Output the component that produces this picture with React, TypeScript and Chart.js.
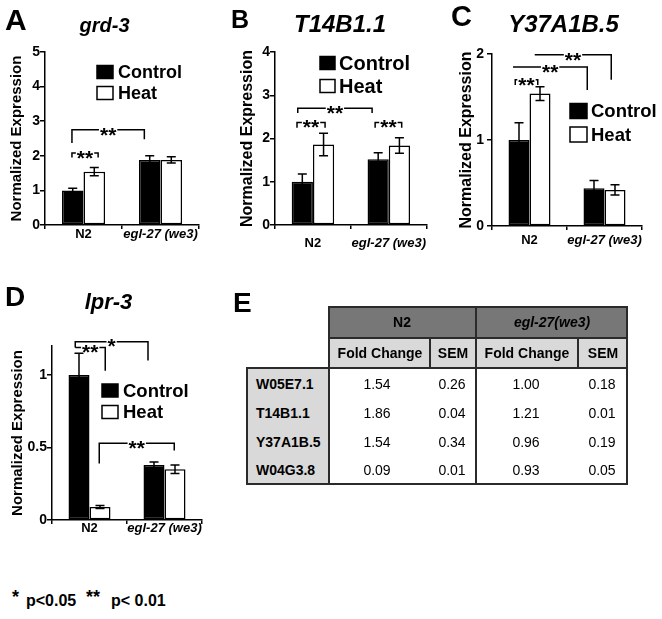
import React, { useEffect, useRef } from 'react';
import { Chart, registerables } from 'chart.js';

Chart.register(...registerables);

const FONT = '"Liberation Sans", Arial, Helvetica, sans-serif';

// ---------- data ----------
const groups = ['N2', 'egl-27 (we3)'];
const seriesNames = ['Control', 'Heat'];
const yTitle = 'Normalized Expression';

// A: grd-3
const grdControl = [1.0, 1.88];
const grdControlSem = [0.06, 0.12];
const grdHeat = [1.54, 1.88];
const grdHeatSem = [0.12, 0.09];
const grdTicks = [0, 1, 2, 3, 4, 5];
const grdSig = [
  { label: '**', from: -0.15, to: 0.79, y: 2.75, leftEnd: 2.37, rightEnd: 2.48 },
  { label: '**', from: -0.15, to: 0.19, y: 2.08, leftEnd: 1.95, rightEnd: 1.95 },
];

// B: T14B1.1
const t14Control = [1.0, 1.52];
const t14ControlSem = [0.18, 0.15];
const t14Heat = [1.86, 1.84];
const t14HeatSem = [0.26, 0.18];
const t14Ticks = [0, 1, 2, 3, 4];
const t14Sig = [
  { label: '**', from: -0.2, to: 0.78, y: 2.7, leftEnd: 2.59, rightEnd: 2.59 },
  { label: '**', from: -0.21, to: 0.16, y: 2.37, leftEnd: 2.25, rightEnd: 2.25 },
  { label: '**', from: 0.82, to: 1.17, y: 2.37, leftEnd: 2.25, rightEnd: 2.25 },
];

// C: Y37A1B.5
const y37Control = [1.0, 0.44];
const y37ControlSem = [0.2, 0.09];
const y37Heat = [1.54, 0.42];
const y37HeatSem = [0.08, 0.06];
const y37Ticks = [0, 1, 2];
const y37Sig = [
  { label: '**', from: 0.07, to: 1.09, y: 1.99, leftEnd: null, rightEnd: 1.7 },
  { label: '**', from: -0.22, to: 0.77, y: 1.85, leftEnd: null, rightEnd: 1.58 },
  { label: '**', from: -0.19, to: 0.11, y: 1.7, leftEnd: 1.64, rightEnd: 1.64 },
];

// D: lpr-3
const lprControl = [1.0, 0.38];
const lprControlSem = [0.15, 0.02];
const lprHeat = [0.09, 0.35];
const lprHeatSem = [0.01, 0.03];
const lprTicks = [0, 0.5, 1];
const lprSig = [
  { label: '*', from: -0.19, to: 0.78, y: 1.23, leftEnd: 1.19, rightEnd: 1.1 },
  { label: '**', from: -0.19, to: 0.21, y: 1.19, leftEnd: null, rightEnd: 1.03 },
  { label: '**', from: 0.13, to: 1.13, y: 0.53, leftEnd: 0.39, rightEnd: 0.48 },
];

// E: table
const tableGenes = ['W05E7.1', 'T14B1.1', 'Y37A1B.5', 'W04G3.8'];
const n2Fold = ['1.54', '1.86', '1.54', '0.09'];
const n2Sem = ['0.26', '0.04', '0.34', '0.01'];
const eglFold = ['1.00', '1.21', '0.96', '0.93'];
const eglSem = ['0.18', '0.01', '0.19', '0.05'];
const tableGroups = ['N2', 'egl-27(we3)'];
const tableCols = ['Fold Change', 'SEM'];

// ---------- plugins ----------
const errorBarPlugin = {
  id: 'errorBars',
  afterDatasetsDraw(chart: any) {
    const { ctx } = chart;
    const ys = chart.scales.y;
    chart.data.datasets.forEach((ds: any, di: number) => {
      const meta = chart.getDatasetMeta(di);
      meta.data.forEach((bar: any, i: number) => {
        const v = ds.data[i];
        const e = ds.errors[i];
        const yt = ys.getPixelForValue(v + e);
        const yb = ys.getPixelForValue(v - e);
        const x = bar.x;
        ctx.save();
        ctx.strokeStyle = '#000';
        ctx.lineWidth = 1.5;
        ctx.beginPath();
        ctx.moveTo(x, yt);
        ctx.lineTo(x, yb);
        ctx.moveTo(x - 4.5, yt);
        ctx.lineTo(x + 4.5, yt);
        ctx.moveTo(x - 4.5, yb);
        ctx.lineTo(x + 4.5, yb);
        ctx.stroke();
        ctx.restore();
      });
    });
  },
};

const bracketPlugin = {
  id: 'sigBrackets',
  afterDraw(chart: any, _args: any, opts: any) {
    const { ctx } = chart;
    const xs = chart.scales.x;
    const ys = chart.scales.y;
    const p0 = xs.getPixelForValue(0);
    const step = xs.getPixelForValue(1) - p0;
    const X = (u: number) => p0 + u * step;
    ctx.save();
    ctx.strokeStyle = '#000';
    ctx.fillStyle = '#000';
    ctx.lineWidth = 1.5;
    ctx.font = `bold ${opts.size}px ${FONT}`;
    ctx.textAlign = 'center';
    ctx.textBaseline = 'alphabetic';
    for (const b of opts.items) {
      const x1 = X(b.from);
      const x2 = X(b.to);
      const y = ys.getPixelForValue(b.y);
      const mid = (x1 + x2) / 2;
      const w = ctx.measureText(b.label).width;
      const g1 = mid - w / 2 - 1;
      const g2 = mid + w / 2 + 1;
      ctx.beginPath();
      if (b.leftEnd != null) {
        ctx.moveTo(x1, ys.getPixelForValue(b.leftEnd));
        ctx.lineTo(x1, y);
      } else {
        ctx.moveTo(x1, y);
      }
      ctx.lineTo(Math.max(x1, g1), y);
      ctx.moveTo(Math.min(x2, g2), y);
      ctx.lineTo(x2, y);
      if (b.rightEnd != null) ctx.lineTo(x2, ys.getPixelForValue(b.rightEnd));
      ctx.stroke();
      ctx.fillText(b.label, mid, y + 0.56 * opts.size);
    }
    ctx.restore();
  },
};

const boxLegendPlugin = {
  id: 'boxLegend',
  afterDraw(chart: any, _args: any, opts: any) {
    const { ctx } = chart;
    ctx.save();
    chart.data.datasets.forEach((ds: any, i: number) => {
      const cy = opts.y + i * opts.gap;
      ctx.fillStyle = ds.backgroundColor;
      ctx.fillRect(opts.x, cy - opts.h / 2, opts.w, opts.h);
      ctx.strokeStyle = '#000';
      ctx.lineWidth = 1.5;
      ctx.strokeRect(opts.x, cy - opts.h / 2, opts.w, opts.h);
      ctx.fillStyle = '#000';
      ctx.font = `bold ${opts.size}px ${FONT}`;
      ctx.textAlign = 'left';
      ctx.textBaseline = 'middle';
      ctx.fillText(ds.label, opts.x + opts.w + opts.textGap, cy + 1);
    });
    ctx.restore();
  },
};

// ---------- panel specs ----------
type Spec = {
  cx: number; cy: number; cw: number; ch: number;
  L: number; R: number; T: number; B: number;
  max: number; ticks: number[];
  control: number[]; controlSem: number[]; heat: number[]; heatSem: number[];
  sig: any[];
  titleSize: number; titleCenter: number; tickPad: number; xPad: number;
  legend: any;
};

const specs: Spec[] = [
  {
    cx: 0, cy: 0, cw: 210, ch: 260, L: 45, R: 199, T: 52, B: 225,
    max: 5, ticks: grdTicks,
    control: grdControl, controlSem: grdControlSem, heat: grdHeat, heatSem: grdHeatSem, sig: grdSig,
    titleSize: 15, titleCenter: 17, tickPad: 0, xPad: -2,
    legend: { x: 97, y: 72, gap: 21, w: 16, h: 13, size: 18, textGap: 5 },
  },
  {
    cx: 210, cy: 0, cw: 225, ch: 260, L: 275, R: 427, T: 52, B: 225,
    max: 4, ticks: t14Ticks,
    control: t14Control, controlSem: t14ControlSem, heat: t14Heat, heatSem: t14HeatSem, sig: t14Sig,
    titleSize: 16, titleCenter: 37.5, tickPad: 0, xPad: 7,
    legend: { x: 110, y: 63, gap: 23, w: 15, h: 13, size: 20, textGap: 4 },
  },
  {
    cx: 435, cy: 0, cw: 227, ch: 260, L: 492, R: 642, T: 54, B: 226,
    max: 2, ticks: y37Ticks,
    control: y37Control, controlSem: y37ControlSem, heat: y37Heat, heatSem: y37HeatSem, sig: y37Sig,
    titleSize: 16, titleCenter: 32, tickPad: 3, xPad: 3,
    legend: { x: 135, y: 111, gap: 23.5, w: 17, h: 15, size: 18.5, textGap: 4 },
  },
  {
    cx: 0, cy: 280, cw: 240, ch: 270, L: 52, R: 202, T: 346, B: 520,
    max: 1.2, ticks: lprTicks,
    control: lprControl, controlSem: lprControlSem, heat: lprHeat, heatSem: lprHeatSem, sig: lprSig,
    titleSize: 15, titleCenter: 17.5, tickPad: 0, xPad: -3,
    legend: { x: 102, y: 110.5, gap: 21.5, w: 16, h: 13, size: 18.5, textGap: 5 },
  },
];

function makeConfig(p: Spec): any {
  const titleLH = p.titleSize * 1.2;
  return {
    type: 'bar',
    data: {
      labels: groups,
      datasets: [
        {
          label: seriesNames[0], data: p.control, errors: p.controlSem,
          backgroundColor: '#000000', borderColor: '#000000', borderWidth: 1.5, borderSkipped: false,
        },
        {
          label: seriesNames[1], data: p.heat, errors: p.heatSem,
          backgroundColor: '#ffffff', borderColor: '#000000', borderWidth: 1.5, borderSkipped: false,
        },
      ],
    },
    options: {
      animation: false,
      responsive: false,
      maintainAspectRatio: false,
      events: [],
      layout: {
        padding: { left: 0, right: p.cx + p.cw - p.R, top: p.T - p.cy, bottom: 0 },
      },
      datasets: { bar: { barPercentage: 1, categoryPercentage: 0.56 } },
      plugins: {
        legend: { display: false },
        title: { display: false },
        tooltip: { enabled: false },
        sigBrackets: { items: p.sig, size: 21 },
        boxLegend: p.legend,
      },
      scales: {
        x: {
          type: 'category',
          afterFit: (s: any) => { s.height = p.cy + p.ch - p.B; },
          border: { display: true, color: '#000', width: 1.5 },
          grid: { display: true, drawOnChartArea: false, drawTicks: true, tickLength: 4, color: '#000', lineWidth: 1.5, offset: true },
          ticks: {
            color: '#000',
            padding: p.xPad,
            maxRotation: 0,
            autoSkip: false,
            font: (ctx: any) => ({ family: FONT, size: 13, weight: 'bold', style: ctx.index === 1 ? 'italic' : 'normal' }),
          },
        },
        y: {
          type: 'linear',
          min: 0,
          max: p.max,
          afterFit: (s: any) => { s.width = p.L - p.cx; },
          afterBuildTicks: (s: any) => { s.ticks = p.ticks.map((v) => ({ value: v })); },
          border: { display: true, color: '#000', width: 1.5 },
          grid: { display: true, drawOnChartArea: false, drawTicks: true, tickLength: 5, color: '#000', lineWidth: 1.5 },
          ticks: {
            color: '#000',
            padding: p.tickPad,
            font: { family: FONT, size: 14, weight: 'bold' },
            callback: (v: any) => String(v),
          },
          title: {
            display: true,
            text: yTitle,
            color: '#000',
            font: { family: FONT, size: p.titleSize, weight: 'bold' },
            padding: { top: p.titleCenter - titleLH / 2, bottom: 0 },
          },
        },
      },
    },
    plugins: [errorBarPlugin, bracketPlugin, boxLegendPlugin],
  };
}

function Panel({ spec }: { spec: Spec }) {
  const ref = useRef<HTMLCanvasElement | null>(null);
  useEffect(() => {
    const chart = new Chart(ref.current as HTMLCanvasElement, makeConfig(spec));
    return () => chart.destroy();
  }, []);
  return (
    <canvas
      ref={ref}
      width={spec.cw}
      height={spec.ch}
      style={{ position: 'absolute', left: spec.cx, top: spec.cy, width: spec.cw, height: spec.ch }}
    />
  );
}

// ---------- text helpers ----------
function Txt(props: {
  x: number; base: number; size: number; text: string;
  bold?: boolean; italic?: boolean; align?: 'left' | 'center';
}) {
  const { x, base, size, text, bold = true, italic = false, align = 'left' } = props;
  const style: any = {
    position: 'absolute',
    top: base - 0.8465 * size,
    fontFamily: FONT,
    fontSize: size,
    lineHeight: `${size}px`,
    fontWeight: bold ? 'bold' : 'normal',
    fontStyle: italic ? 'italic' : 'normal',
    whiteSpace: 'nowrap',
    color: '#000',
  };
  if (align === 'center') {
    style.left = x - 150;
    style.width = 300;
    style.textAlign = 'center';
  } else {
    style.left = x;
  }
  return <div style={style}>{text}</div>;
}

function Box({ x, y, w, h, bg }: { x: number; y: number; w: number; h: number; bg: string }) {
  return <div style={{ position: 'absolute', left: x, top: y, width: w, height: h, background: bg }} />;
}

function Table() {
  const lineC = '#2b2b2b';
  const t = 2;
  const H = (x1: number, x2: number, y: number, k: string) => (
    <div key={k} style={{ position: 'absolute', left: x1 - t / 2, top: y - t / 2, width: x2 - x1 + t, height: t, background: lineC }} />
  );
  const V = (x: number, y1: number, y2: number, k: string) => (
    <div key={k} style={{ position: 'absolute', left: x - t / 2, top: y1 - t / 2, width: t, height: y2 - y1 + t, background: lineC }} />
  );
  const rowY = [384, 413, 442, 470];
  const colCenters = [377, 452, 526, 602];
  const cols = [n2Fold, n2Sem, eglFold, eglSem];
  return (
    <>
      <Box x={329} y={307} w={298} h={31} bg="#777777" />
      <Box x={329} y={338} w={298} h={30} bg="#d9d9d9" />
      <Box x={247} y={368} w={82} h={116} bg="#d9d9d9" />
      <Box x={329} y={368} w={298} h={116} bg="#ffffff" />
      <Txt x={402} base={327} size={14} text={tableGroups[0]} align="center" />
      <Txt x={552} base={327} size={14} text={tableGroups[1]} align="center" italic />
      <Txt x={380} base={358} size={14} text={tableCols[0]} align="center" />
      <Txt x={453} base={358} size={14} text={tableCols[1]} align="center" />
      <Txt x={527} base={358} size={14} text={tableCols[0]} align="center" />
      <Txt x={603} base={358} size={14} text={tableCols[1]} align="center" />
      {tableGenes.map((g, i) => (
        <Txt key={'g' + i} x={256} base={rowY[i] + 5} size={14} text={g} />
      ))}
      {cols.map((col, c) =>
        col.map((v, i) => (
          <Txt key={`c${c}r${i}`} x={colCenters[c]} base={rowY[i] + 5} size={14} text={v} bold={false} align="center" />
        ))
      )}
      {[
        H(329, 627, 307, 'h1'), H(329, 627, 338, 'h2'), H(247, 627, 368, 'h3'), H(247, 627, 484, 'h4'),
        V(247, 368, 484, 'v1'), V(329, 307, 484, 'v2'), V(476, 307, 484, 'v3'), V(627, 307, 484, 'v4'),
        V(430, 338, 368, 'v5'), V(578, 338, 368, 'v6'),
      ]}
    </>
  );
}

export default function App() {
  return (
    <div style={{ position: 'absolute', left: 0, top: 0, width: 662, height: 619, background: '#fff', overflow: 'hidden' }}>
      {specs.map((s, i) => (
        <Panel key={i} spec={s} />
      ))}
      <Txt x={5} base={30} size={30} text="A" />
      <Txt x={231} base={28} size={25} text="B" />
      <Txt x={451} base={26.5} size={29} text="C" />
      <Txt x={5} base={307} size={28} text="D" />
      <Txt x={233} base={313} size={28} text="E" />
      <Txt x={104.5} base={32} size={20} text="grd-3" italic align="center" />
      <Txt x={340} base={32} size={24} text="T14B1.1" italic align="center" />
      <Txt x={563.5} base={32} size={24} text="Y37A1B.5" italic align="center" />
      <Txt x={108.5} base={310} size={22} text="lpr-3" italic align="center" />
      <Table />
      <Txt x={12} base={603} size={18} text="*" />
      <Txt x={26} base={607} size={16} text="p<0.05" />
      <Txt x={86} base={603} size={18} text="**" />
      <Txt x={111} base={607} size={16} text="p< 0.01" />
    </div>
  );
}
